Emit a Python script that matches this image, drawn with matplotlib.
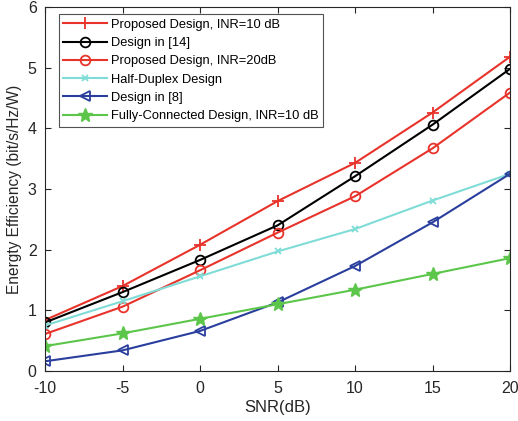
"""
Energy efficiency vs SNR for the compared designs.
Output: out.png
"""
import matplotlib
matplotlib.use("Agg")
import matplotlib.pyplot as plt

snr_db = [-10, -5, 0, 5, 10, 15, 20]

proposed_inr10 = [0.84, 1.40, 2.08, 2.80, 3.43, 4.26, 5.18]
design_14 = [0.80, 1.30, 1.83, 2.40, 3.21, 4.06, 4.98]
proposed_inr20 = [0.61, 1.06, 1.66, 2.28, 2.88, 3.67, 4.59]
half_duplex = [0.75, 1.15, 1.56, 1.97, 2.34, 2.81, 3.25]
design_8 = [0.16, 0.34, 0.66, 1.13, 1.73, 2.45, 3.25]
fully_connected = [0.41, 0.62, 0.86, 1.10, 1.34, 1.60, 1.86]

labels = [
    "Proposed Design, INR=10 dB",
    "Design in [14]",
    "Proposed Design, INR=20dB",
    "Half-Duplex Design",
    "Design in [8]",
    "Fully-Connected Design, INR=10 dB",
]

plt.rcParams["font.family"] = ["Liberation Sans", "DejaVu Sans"]
plt.rcParams["axes.unicode_minus"] = False

fig = plt.figure(figsize=(5.18, 4.21), dpi=100)
ax = fig.add_axes([45 / 518, 1 - 371 / 421, (510 - 45) / 518, (371 - 7) / 421])

red = "#e8332b"
ax.plot(snr_db, proposed_inr10, color=red, marker="+", ms=8, mew=1.3, lw=1.5, label=labels[0])
ax.plot(snr_db, design_14, color="black", marker="o", ms=7, mfc="none", mew=1.3, lw=1.5, label=labels[1])
ax.plot(snr_db, proposed_inr20, color=red, marker="o", ms=7, mfc="none", mew=1.3, lw=1.5, label=labels[2])
ax.plot(snr_db, half_duplex, color="#80dcd6", marker="x", ms=5, mew=1.3, lw=1.5, label=labels[3])
ax.plot(snr_db, design_8, color="#2a3f9d", marker="<", ms=7, mfc="none", mew=1.3, lw=1.5, label=labels[4])
ax.plot(snr_db, fully_connected, color="#5cc64a", marker="*", ms=10, mew=1.0, lw=1.5, label=labels[5])

ax.set_xlim(-10, 20)
ax.set_ylim(0, 6)
ax.set_xticks(snr_db)
ax.set_yticks(range(0, 7))
ax.tick_params(direction="in", length=4, labelsize=11.5, colors="#262626", top=True, right=True,
               labeltop=False, labelright=False)
ax.tick_params(axis="x", pad=7)
ax.tick_params(axis="y", pad=6)
for s in ax.spines.values():
    s.set_color("#262626")
    s.set_linewidth(0.8)
ax.set_xlabel("SNR(dB)", fontsize=12, color="#262626", labelpad=3)
ax.set_ylabel("Energty Efficiency (bit/s/Hz/W)", fontsize=11.2, color="#262626", labelpad=4)

leg = ax.legend(loc="upper left", bbox_to_anchor=(0.03, 0.98), fontsize=9.3, frameon=True,
                fancybox=False, edgecolor="#262626", handlelength=3.4, handletextpad=0.3,
                labelspacing=0.48, borderpad=0.35, borderaxespad=0, numpoints=1)
leg.get_frame().set_linewidth(0.8)

fig.savefig("out.png", dpi=100)
